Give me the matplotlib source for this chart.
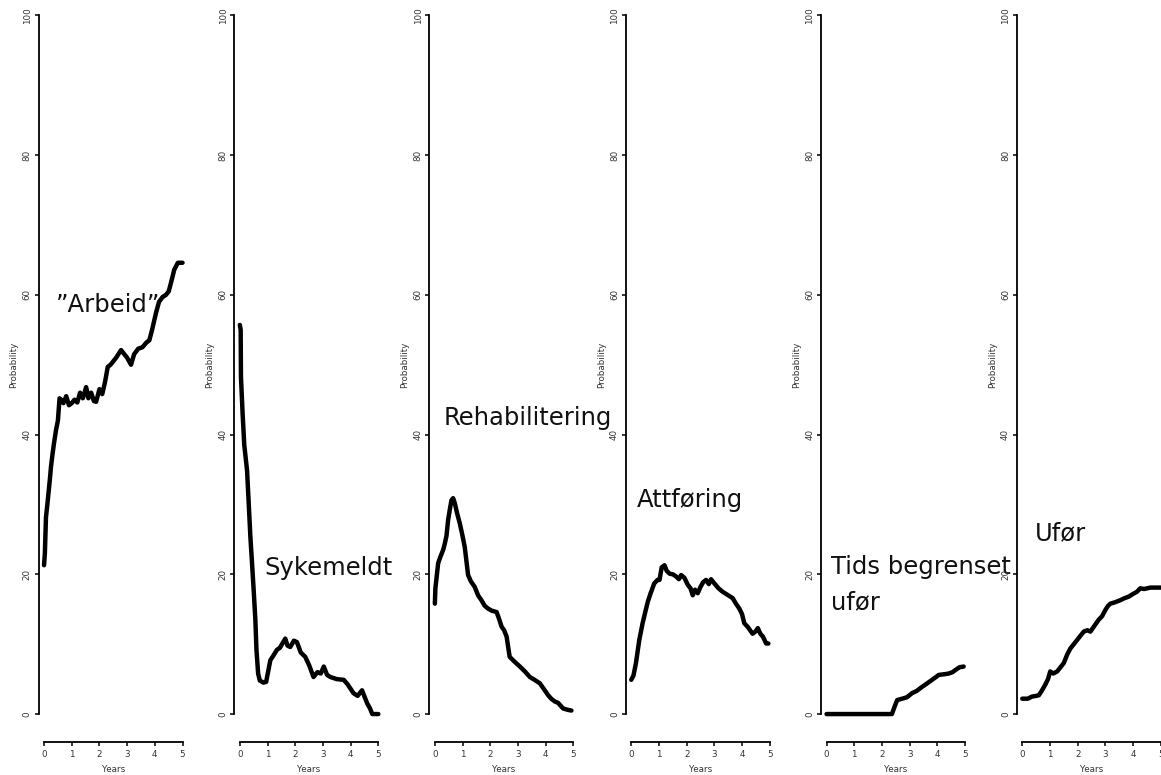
import matplotlib
matplotlib.use('Agg')
import matplotlib.pyplot as plt

# One panel per state
arbeid_years = [0, 0.03, 0.07, 0.12, 0.17, 0.22, 0.25, 0.3, 0.35, 0.43, 0.5, 0.56, 0.62, 0.7, 0.8,
                0.9, 1.0, 1.1, 1.2, 1.3, 1.4, 1.52, 1.6, 1.7, 1.8, 1.88, 2.0, 2.1, 2.2, 2.3, 2.4,
                2.5, 2.6, 2.78, 2.9, 3.0, 3.14, 3.25, 3.4, 3.55, 3.7, 3.8, 3.9, 4.04, 4.15, 4.28,
                4.4, 4.5, 4.6, 4.7, 4.83, 5.0]
arbeid_prob = [21.3, 23, 28.2, 30, 32, 34, 35.4, 37, 38.5, 40.6, 42, 45.2, 45, 44.5, 45.5,
               44.2, 44.5, 45, 44.6, 46, 45.2, 46.8, 45.2, 46, 44.8, 44.7, 46.5, 45.8, 47.5, 49.7, 50,
               50.5, 51, 52.1, 51.5, 51, 50, 51.5, 52.3, 52.5, 53.2, 53.5, 55, 57.4, 59, 59.7,
               60, 60.5, 62, 63.6, 64.6, 64.6]

syk_years = [0, 0.03, 0.04, 0.1, 0.16, 0.26, 0.32, 0.38, 0.44, 0.5, 0.56, 0.6, 0.66, 0.72, 0.85,
             0.95, 1.1, 1.2, 1.34, 1.45, 1.55, 1.64, 1.72, 1.82, 1.95, 2.06, 2.2, 2.36, 2.5, 2.66,
             2.8, 2.92, 3.03, 3.15, 3.27, 3.5, 3.75, 3.9, 4.1, 4.25, 4.41, 4.5, 4.6, 4.7, 4.78, 5.0]
syk_prob = [55.7, 55, 48.3, 43, 38.5, 34.9, 30.2, 25.4, 21.6, 17.7, 13.5, 9.2, 5.8, 4.8, 4.5,
            4.6, 7.7, 8.3, 9.2, 9.5, 10.2, 10.8, 9.8, 9.6, 10.5, 10.3, 8.8, 8.2, 7, 5.3,
            6, 5.8, 6.8, 5.6, 5.3, 5.0, 4.9, 4.2, 3.0, 2.6, 3.4, 2.5, 1.5, 0.8, 0, 0]

rehab_years = [0, 0.02, 0.12, 0.2, 0.3, 0.36, 0.42, 0.48, 0.55, 0.6, 0.66, 0.72, 0.8, 0.9, 1.0,
               1.08, 1.2, 1.3, 1.44, 1.56, 1.68, 1.8, 1.92, 2.05, 2.23, 2.32, 2.41, 2.5, 2.59,
               2.7, 2.85, 3.07, 3.25, 3.43, 3.6, 3.79, 3.95, 4.09, 4.2, 4.33, 4.45, 4.63, 4.8, 4.93]
rehab_prob = [15.8, 18, 21.6, 22.5, 23.5, 24.4, 25.5, 27.8, 29.5, 30.6, 30.9, 30.2, 28.8, 27.3, 25.5,
              23.9, 19.9, 19, 18.2, 17, 16.3, 15.5, 15.1, 14.8, 14.6, 13.6, 12.5, 12, 11.1,
              8.2, 7.6, 6.8, 6.1, 5.3, 4.9, 4.4, 3.5, 2.7, 2.2, 1.8, 1.6, 0.8, 0.6, 0.5]

attf_years = [0, 0.08, 0.17, 0.29, 0.41, 0.5, 0.6, 0.7, 0.83, 0.95, 1.02, 1.1, 1.2, 1.28, 1.38,
              1.5, 1.62, 1.72, 1.8, 1.92, 2.04, 2.14, 2.22, 2.3, 2.4, 2.5, 2.6, 2.7, 2.8, 2.88,
              3.0, 3.15, 3.3, 3.5, 3.66, 3.78, 3.9, 4.0, 4.08, 4.2, 4.38, 4.48, 4.57, 4.66, 4.75,
              4.87, 4.95]
attf_prob = [4.9, 5.5, 7.3, 10.6, 13, 14.5, 16.1, 17.3, 18.7, 19.2, 19.2, 21, 21.3, 20.5, 20.1,
             20, 19.7, 19.3, 19.9, 19.5, 18.5, 18, 17, 17.8, 17.3, 18.2, 18.9, 19.2, 18.6, 19.3,
             18.7, 18, 17.5, 17, 16.6, 15.8, 15.1, 14.3, 13, 12.5, 11.5, 11.8, 12.3, 11.5, 11.1,
             10.1, 10.1]

tids_years = [0, 2.36, 2.45, 2.55, 2.73, 2.9, 3.09, 3.25, 3.45, 3.6, 3.81, 3.95, 4.05, 4.25,
              4.41, 4.55, 4.65, 4.8, 4.95]
tids_prob = [0, 0, 1.0, 2.0, 2.2, 2.4, 3.0, 3.3, 3.9, 4.3, 4.9, 5.3, 5.6, 5.7,
             5.8, 6.0, 6.3, 6.7, 6.8]

ufor_years = [0, 0.2, 0.35, 0.5, 0.6, 0.7, 0.83, 0.93, 1.01, 1.12, 1.26, 1.4, 1.5, 1.62, 1.74,
              1.86, 1.98, 2.1, 2.22, 2.35, 2.46, 2.6, 2.76, 2.88, 3.0, 3.1, 3.18, 3.35, 3.54,
              3.7, 3.84, 4.0, 4.14, 4.26, 4.4, 4.62, 5.0]
ufor_prob = [2.2, 2.2, 2.5, 2.6, 2.7, 3.3, 4.2, 5.0, 6.1, 5.8, 6.1, 6.8, 7.3, 8.5, 9.4,
             10.0, 10.6, 11.2, 11.8, 12.0, 11.8, 12.6, 13.5, 14.0, 14.9, 15.5, 15.8, 16.0, 16.3,
             16.6, 16.8, 17.2, 17.5, 18.0, 17.9, 18.1, 18.1]

# state name pieces: (text, x, y baseline)
labels = [
    [('\u201dArbeid\u201d', 0.43, 57.6)],
    [('Sykemeldt', 0.88, 19.9)],
    [('Rehabilitering', 0.32, 41.4)],
    [('Attføring', 0.21, 29.7)],
    [('Tids begrenset', 0.16, 20.0), ('ufør', 0.16, 15.0)],
    [('Ufør', 0.46, 24.9)],
]

series = [
    (arbeid_years, arbeid_prob),
    (syk_years, syk_prob),
    (rehab_years, rehab_prob),
    (attf_years, attf_prob),
    (tids_years, tids_prob),
    (ufor_years, ufor_prob),
]

W, H = 1161, 775
AXIS_X = [38.5, 234.3, 429.3, 625.7, 821.0, 1016.7]  # pixel x of each y-axis line
AX_W = 149.6
AX_BOTTOM = 33
AX_H = 754.5

fig = plt.figure(figsize=(W / 100, H / 100), dpi=100)
fig.patch.set_facecolor('white')

for i, (years, prob) in enumerate(series):
    ax = fig.add_axes([AXIS_X[i] / W, AX_BOTTOM / H, AX_W / W, AX_H / H])
    ax.set_facecolor('none')
    ax.plot(years, prob, color='black', lw=3.2, solid_joinstyle='round', solid_capstyle='round')
    ax.set_xlim(-0.2, 5.2)
    ax.set_ylim(-4, 104)

    ax.spines['top'].set_visible(False)
    ax.spines['right'].set_visible(False)
    ax.spines['left'].set_bounds(0, 100)
    ax.spines['bottom'].set_bounds(0, 5)
    ax.spines['left'].set_linewidth(1.3)
    ax.spines['bottom'].set_linewidth(1.3)

    ax.set_yticks([0, 20, 40, 60, 80, 100])
    ax.set_xticks([0, 1, 2, 3, 4, 5])
    ax.tick_params(axis='y', length=2.8, width=1.1, pad=2, labelsize=6.3, labelrotation=90,
                   colors='black', labelcolor='#333333')
    ax.tick_params(axis='x', length=3, width=1.1, pad=3, labelsize=6.3,
                   colors='black', labelcolor='#333333')
    for lab in ax.get_yticklabels():
        lab.set_va('center')

    ax.text(-0.164, 0.5, 'Probability', transform=ax.transAxes, rotation=90,
            ha='center', va='center', fontsize=6.3, color='#333333')
    ax.text(0.5, -0.037, 'Years', transform=ax.transAxes,
            ha='center', va='center', fontsize=6.3, color='#333333')

    for txt, lx, ly in labels[i]:
        ax.text(lx, ly, txt, ha='left', va='baseline', fontsize=17.5,
                color='#111111', clip_on=False)

fig.savefig('out.png', dpi=100, facecolor='white')
